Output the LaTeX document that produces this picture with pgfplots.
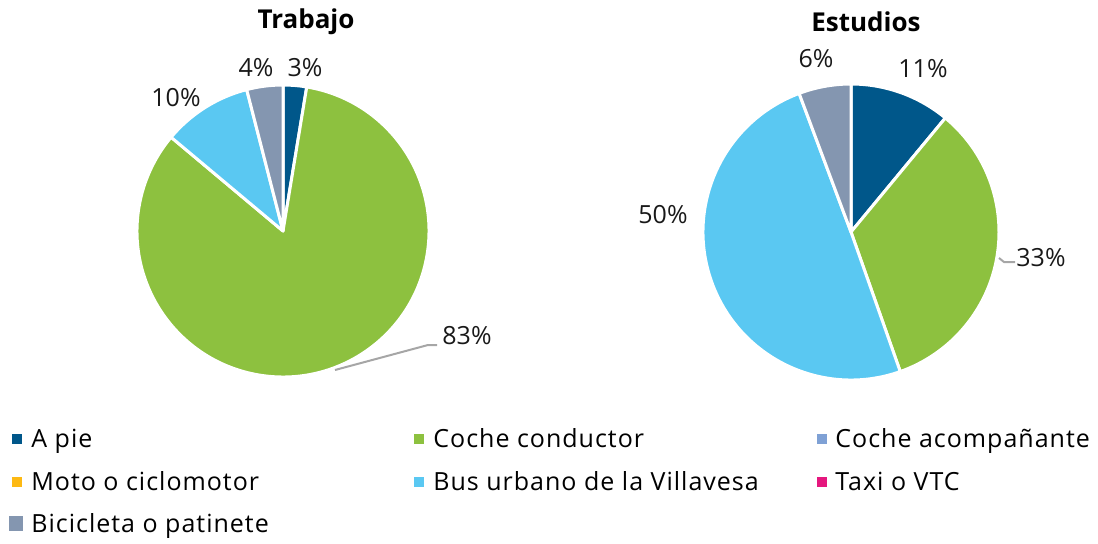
\documentclass[border=0pt]{standalone}
\usepackage{pgfplots}
\pgfplotsset{compat=1.18}
\usepackage{fontspec}
\setmainfont{Open Sans}
\newfontfamily\legfont[LetterSpace=4]{Open Sans}
\definecolor{cpie}{HTML}{00578A}
\definecolor{ccond}{HTML}{8DC13F}
\definecolor{cacomp}{HTML}{7FA1D5}
\definecolor{cmoto}{HTML}{FDB913}
\definecolor{cbus}{HTML}{5AC8F2}
\definecolor{ctaxi}{HTML}{E5177E}
\definecolor{cbici}{HTML}{8496B0}
% slice: cx, cy, radius(pt), start angle, end angle, colour
\newcommand\slice[6]{\fill[#6,draw=white,line width=1.5pt,line join=round] (axis cs:#1,#2) -- ++({#4}:#3pt) arc[start angle={#4},end angle={#5},radius=#3pt] -- cycle;}
\begin{document}
\begin{tikzpicture}
\begin{axis}[width=549pt,height=271.5pt,scale only axis,hide axis,clip=false,
  xmin=0,xmax=1098,ymin=0,ymax=543]
\path (axis cs:0,0) rectangle (axis cs:1098,543);
% Trabajo: A pie 2.6, Coche conductor 83.5, Bus 9.9, Bicicleta 4.0
\slice{283}{312}{73}{90}{90-3.6*2.6}{cpie}
\slice{283}{312}{73}{90-3.6*2.6}{90-3.6*(2.6+83.5)}{ccond}
\slice{283}{312}{73}{90-3.6*(2.6+83.5)}{90-3.6*(2.6+83.5+9.9)}{cbus}
\slice{283}{312}{73}{90-3.6*(2.6+83.5+9.9)}{90-3.6*(2.6+83.5+9.9+4.0)}{cbici}
% Estudios: A pie 11.0, Coche conductor 33.6, Bus 49.7, Bicicleta 5.7
\slice{851}{311}{74}{90}{90-3.6*11.0}{cpie}
\slice{851}{311}{74}{90-3.6*11.0}{90-3.6*(11.0+33.6)}{ccond}
\slice{851}{311}{74}{90-3.6*(11.0+33.6)}{90-3.6*(11.0+33.6+49.7)}{cbus}
\slice{851}{311}{74}{90-3.6*(11.0+33.6+49.7)}{90-3.6*(11.0+33.6+49.7+5.7)}{cbici}
% titles
\node[font=\bfseries\fontsize{13}{15}\selectfont] at (axis cs:306,521) {Trabajo};
\node[font=\bfseries\fontsize{13}{15}\selectfont] at (axis cs:866,521) {Estudios};
% data labels
\begin{scope}[every node/.style={font=\fontsize{12.5}{15}\selectfont,text=black!90}]
\node at (axis cs:305,475) {3\%};
\node at (axis cs:256,475) {4\%};
\node at (axis cs:176,445) {10\%};
\node at (axis cs:467,207) {83\%};
\node at (axis cs:923,474) {11\%};
\node at (axis cs:816,484) {6\%};
\node at (axis cs:663,328) {50\%};
\node at (axis cs:1041,285) {33\%};
\end{scope}
\draw[black!35,line width=1pt] (axis cs:335,173) -- (axis cs:428,198) -- (axis cs:437,198);
\draw[black!35,line width=1pt] (axis cs:999,285) -- (axis cs:1004,281) -- (axis cs:1015,281);
% legend
\begin{scope}[every node/.style={font=\legfont\fontsize{12.5}{14}\selectfont,anchor=base west,inner sep=0pt}]
\fill[cpie]   (axis cs:12,99) rectangle (axis cs:22,109);  \node at (axis cs:31,96) {A pie};
\fill[ccond]  (axis cs:414,99) rectangle (axis cs:424,109); \node at (axis cs:433,96) {Coche conductor};
\fill[cacomp] (axis cs:817,99) rectangle (axis cs:827,109); \node at (axis cs:835,96) {Coche acompañante};
\fill[cmoto]  (axis cs:12,56) rectangle (axis cs:22,66);  \node at (axis cs:31,53) {Moto o ciclomotor};
\fill[cbus]   (axis cs:414,56) rectangle (axis cs:424,66); \node at (axis cs:433,53) {Bus urbano de la Villavesa};
\fill[ctaxi]  (axis cs:817,56) rectangle (axis cs:827,66); \node at (axis cs:835,53) {Taxi o VTC};
\fill[cbici]  (axis cs:9,12) rectangle (axis cs:23,27);   \node at (axis cs:31,11) {Bicicleta o patinete};
\end{scope}
\end{axis}
\end{tikzpicture}
\end{document}
